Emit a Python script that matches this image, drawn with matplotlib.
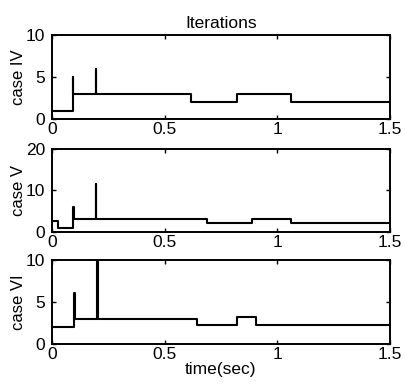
import matplotlib
matplotlib.use("Agg")
from matplotlib import pyplot as plt

plt.rcParams['font.family'] = ['Liberation Sans', 'DejaVu Sans']

# step data: switch times and iteration counts (held until the next time)
t4 = [0, 0.093, 0.096, 0.195, 0.198, 0.617, 0.822, 1.062, 1.5]
it4 = [1, 5, 3, 6, 3, 2, 3, 2, 2]

t5 = [0, 0.026, 0.094, 0.097, 0.195, 0.198, 0.689, 0.889, 1.06, 1.5]
it5 = [2.5, 1, 6, 3, 11.5, 3, 2.2, 3, 2.2, 2.2]

t6 = [0, 0.099, 0.102, 0.2, 0.203, 0.644, 0.822, 0.907, 1.5]
it6 = [2, 6, 3, 10, 3, 2.2, 3.2, 2.2, 2.2]

names = ['case IV', 'case V', 'case VI']
ymax = [10, 20, 10]
yticks = [[0, 5, 10], [0, 10, 20], [0, 5, 10]]
xticks = [0, 0.5, 1, 1.5]
xlabels = ['0', '0.5', '1', '1.5']

fig = plt.figure(figsize=(4.05, 3.89), dpi=100)
boxes = [[0.128, 0.694, 0.835, 0.216],
         [0.128, 0.404, 0.835, 0.213],
         [0.128, 0.116, 0.835, 0.216]]
series = [(t4, it4), (t5, it5), (t6, it6)]

for i in range(3):
    ax = fig.add_axes(boxes[i])
    t, v = series[i]
    ax.step(t, v, where='post', color='black', lw=1.5)
    ax.set_xlim(0, 1.5)
    ax.set_ylim(0, ymax[i])
    ax.set_xticks(xticks)
    ax.set_xticklabels(xlabels)
    ax.set_yticks(yticks[i])
    ax.tick_params(direction='in', top=True, right=True, length=3,
                   labelsize=12.5, width=1)
    ax.tick_params(axis='x', pad=2)
    ax.tick_params(axis='y', pad=5)
    ax.set_ylabel(names[i], fontsize=12, labelpad=0)
    for s in ax.spines.values():
        s.set_linewidth(1.4)
    if i == 0:
        ax.set_title('Iterations', fontsize=12.5, pad=5)
    if i == 2:
        ax.set_xlabel('time(sec)', fontsize=12.5, labelpad=0)

fig.savefig('out.png', dpi=100)
